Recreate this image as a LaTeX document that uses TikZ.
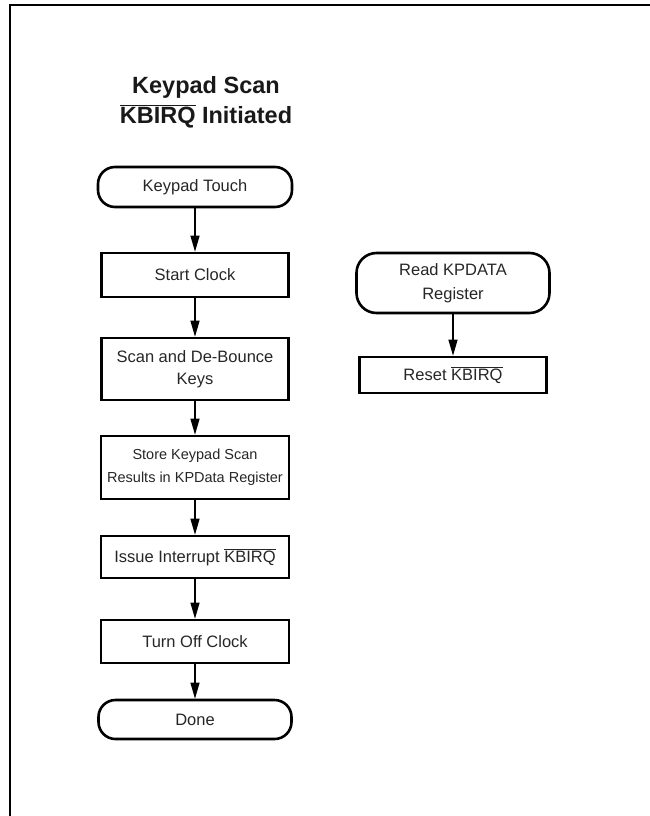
\documentclass[tikz,border=0pt]{standalone}
\usepackage{fontspec}
\setmainfont{Liberation Sans}
\usetikzlibrary{arrows.meta}
\newcommand{\ovl}[1]{$\overline{\mbox{#1}}$}
\tikzset{
  base/.style={draw=black, line width=2.6pt, text=black!85, align=center, inner sep=2pt,
               font=\fontsize{16.5}{22}\selectfont},
  procbox/.style={base, rectangle},
  termbox/.style={base, rectangle, rounded corners=17pt},
  flow/.style={line width=1.2pt, -{Triangle[length=16pt,width=9pt]}},
  frameline/.style={line width=2pt}
}
\begin{document}
\begin{tikzpicture}[x=1pt,y=-1pt]
\useasboundingbox (0,0) rectangle (650,816);
\coordinate (fc) at (10,816);
\coordinate (fa) at (10,5);
\coordinate (fb) at (650,5);
\draw[frameline] (fc) -- (fa) -- (fb);

\node[font=\fontsize{23.5}{30}\selectfont\bfseries, text=black!90, align=center, anchor=base] (title) at (206,123)
  {Keypad Scan\\ \ovl{KBIRQ} Initiated};

\node[termbox, minimum width=194pt, minimum height=40pt] (touch) at (195,187) {Keypad Touch};
\node[procbox, minimum width=187pt, minimum height=44pt] (start) at (195,275) {Start Clock};
\node[procbox, minimum width=187pt, minimum height=62pt] (scan) at (195,369) {Scan and De-Bounce\\Keys};
\node[procbox, minimum width=188pt, minimum height=63pt, font=\fontsize{14.5}{23}\selectfont] (store) at (195,467.5) {Store Keypad Scan\\Results in KPData Register};
\node[procbox, minimum width=188pt, minimum height=42pt] (issue) at (195,557) {Issue Interrupt \ovl{KBIRQ}};
\node[procbox, minimum width=188pt, minimum height=43pt] (off) at (195,641.5) {Turn Off Clock};
\node[termbox, minimum width=193pt, minimum height=39pt] (done) at (195,719.5) {Done};

\node[termbox, rounded corners=20pt, minimum width=193pt, minimum height=60pt, font=\fontsize{16.5}{24}\selectfont] (read) at (453,283) {Read KPDATA\\Register};
\node[procbox, minimum width=187pt, minimum height=36pt] (reset) at (453,375) {Reset \ovl{KBIRQ}};

\draw[flow] (touch.south) -- (start.north);
\draw[flow] (start.south) -- (scan.north);
\draw[flow] (scan.south) -- (store.north);
\draw[flow] (store.south) -- (issue.north);
\draw[flow] (issue.south) -- (off.north);
\draw[flow] (off.south) -- (done.north);
\draw[flow] (read.south) -- (reset.north);
\end{tikzpicture}
\end{document}
